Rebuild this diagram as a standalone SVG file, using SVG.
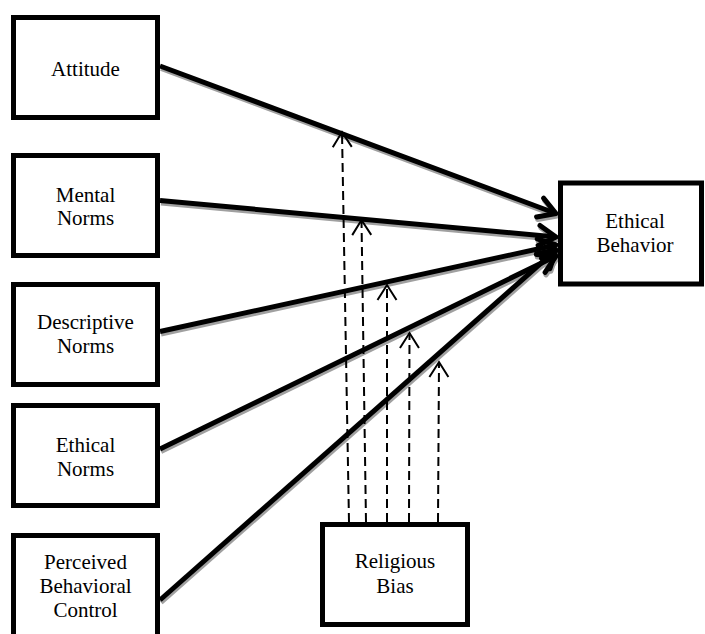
<svg xmlns="http://www.w3.org/2000/svg" width="705" height="634" viewBox="0 0 705 634">
<defs>
<style>
.box{fill:#fff;stroke:#000;stroke-width:5}
.t{font-family:"Times New Roman","Liberation Serif",Tinos,Times,"Nimbus Roman","DejaVu Serif",serif;font-size:21px;fill:#000;text-anchor:middle}
.arr{stroke:#000;stroke-width:5;fill:none;stroke-linecap:butt}
.sh{stroke:#a0a0a0;stroke-width:5;fill:none}
.dash{stroke:#000;stroke-width:2;fill:none;stroke-dasharray:9 5}
</style>
<marker id="ah" markerUnits="userSpaceOnUse" viewBox="-22 -14 26 28" markerWidth="26" markerHeight="28" refX="0" refY="0" orient="auto" overflow="visible">
<path d="M-17,-10 L0,0 L-17,10" fill="none" stroke="#000" stroke-width="5" stroke-linejoin="round" stroke-linecap="round"/>
</marker>
<marker id="ahs" markerUnits="userSpaceOnUse" viewBox="-22 -14 26 28" markerWidth="26" markerHeight="28" refX="0" refY="0" orient="auto" overflow="visible">
<path d="M-17,-10 L0,0 L-17,10" fill="none" stroke="#a0a0a0" stroke-width="5" stroke-linejoin="round" stroke-linecap="round"/>
</marker>
<marker id="oh" markerUnits="userSpaceOnUse" viewBox="-16 -12 18 24" markerWidth="18" markerHeight="24" refX="0" refY="0" orient="auto" overflow="visible">
<path d="M-15,-9.5 L0,0 L-15,9.5" fill="none" stroke="#000" stroke-width="2"/>
</marker>
</defs>

<g id="connectors">
<g id="shadows">
<line class="sh" x1="161" y1="68.5" x2="557" y2="216" marker-end="url(#ahs)"/>
<line class="sh" x1="161" y1="203" x2="557" y2="239.5" marker-end="url(#ahs)"/>
<line class="sh" x1="161" y1="334" x2="557" y2="247.5" marker-end="url(#ahs)"/>
<line class="sh" x1="161" y1="451.5" x2="557" y2="258.5" marker-end="url(#ahs)"/>
<line class="sh" x1="161" y1="602.5" x2="557" y2="252.5" marker-end="url(#ahs)"/>
</g>
<line class="arr" x1="160" y1="66" x2="556" y2="213.5" marker-end="url(#ah)"/>
<line class="arr" x1="160" y1="200.5" x2="556" y2="237" marker-end="url(#ah)"/>
<line class="arr" x1="160" y1="331.5" x2="556" y2="245" marker-end="url(#ah)"/>
<line class="arr" x1="160" y1="449" x2="556" y2="256" marker-end="url(#ah)"/>
<line class="arr" x1="160" y1="600" x2="556" y2="250" marker-end="url(#ah)"/>

<line class="dash" x1="349" y1="522" x2="342" y2="132" marker-end="url(#oh)"/>
<line class="dash" x1="366" y1="522" x2="361.5" y2="220" marker-end="url(#oh)"/>
<line class="dash" x1="387" y1="522" x2="387" y2="285" marker-end="url(#oh)"/>
<line class="dash" x1="409" y1="522" x2="409.5" y2="333" marker-end="url(#oh)"/>
<line class="dash" x1="438" y1="522" x2="439" y2="362" marker-end="url(#oh)"/>
</g>

<g id="attitude">
<rect class="box" x="13.5" y="17.5" width="144" height="100"/>
<text class="t" x="85.5" y="76">Attitude</text>
</g>
<g id="mental-norms">
<rect class="box" x="13.5" y="155.5" width="144" height="100"/>
<text class="t" x="85.5" y="201.5">Mental</text>
<text class="t" x="85.5" y="225">Norms</text>
</g>
<g id="descriptive-norms">
<rect class="box" x="13.5" y="284.5" width="144" height="100"/>
<text class="t" x="85.5" y="328.5">Descriptive</text>
<text class="t" x="85.5" y="352.5">Norms</text>
</g>
<g id="ethical-norms">
<rect class="box" x="13.5" y="405.5" width="144" height="100"/>
<text class="t" x="85.5" y="451.5">Ethical</text>
<text class="t" x="85.5" y="476">Norms</text>
</g>
<g id="perceived-behavioral-control">
<rect class="box" x="13.5" y="535.5" width="144" height="102"/>
<text class="t" x="85.5" y="568.5">Perceived</text>
<text class="t" x="85.5" y="592.5">Behavioral</text>
<text class="t" x="85.5" y="616.5">Control</text>
</g>
<g id="ethical-behavior">
<rect class="box" x="560.5" y="183" width="141" height="101"/>
<text class="t" x="635" y="228">Ethical</text>
<text class="t" x="635" y="252">Behavior</text>
</g>
<g id="religious-bias">
<rect class="box" x="322.5" y="524.5" width="145" height="100"/>
<text class="t" x="395" y="568">Religious</text>
<text class="t" x="395" y="592.5">Bias</text>
</g>
</svg>
